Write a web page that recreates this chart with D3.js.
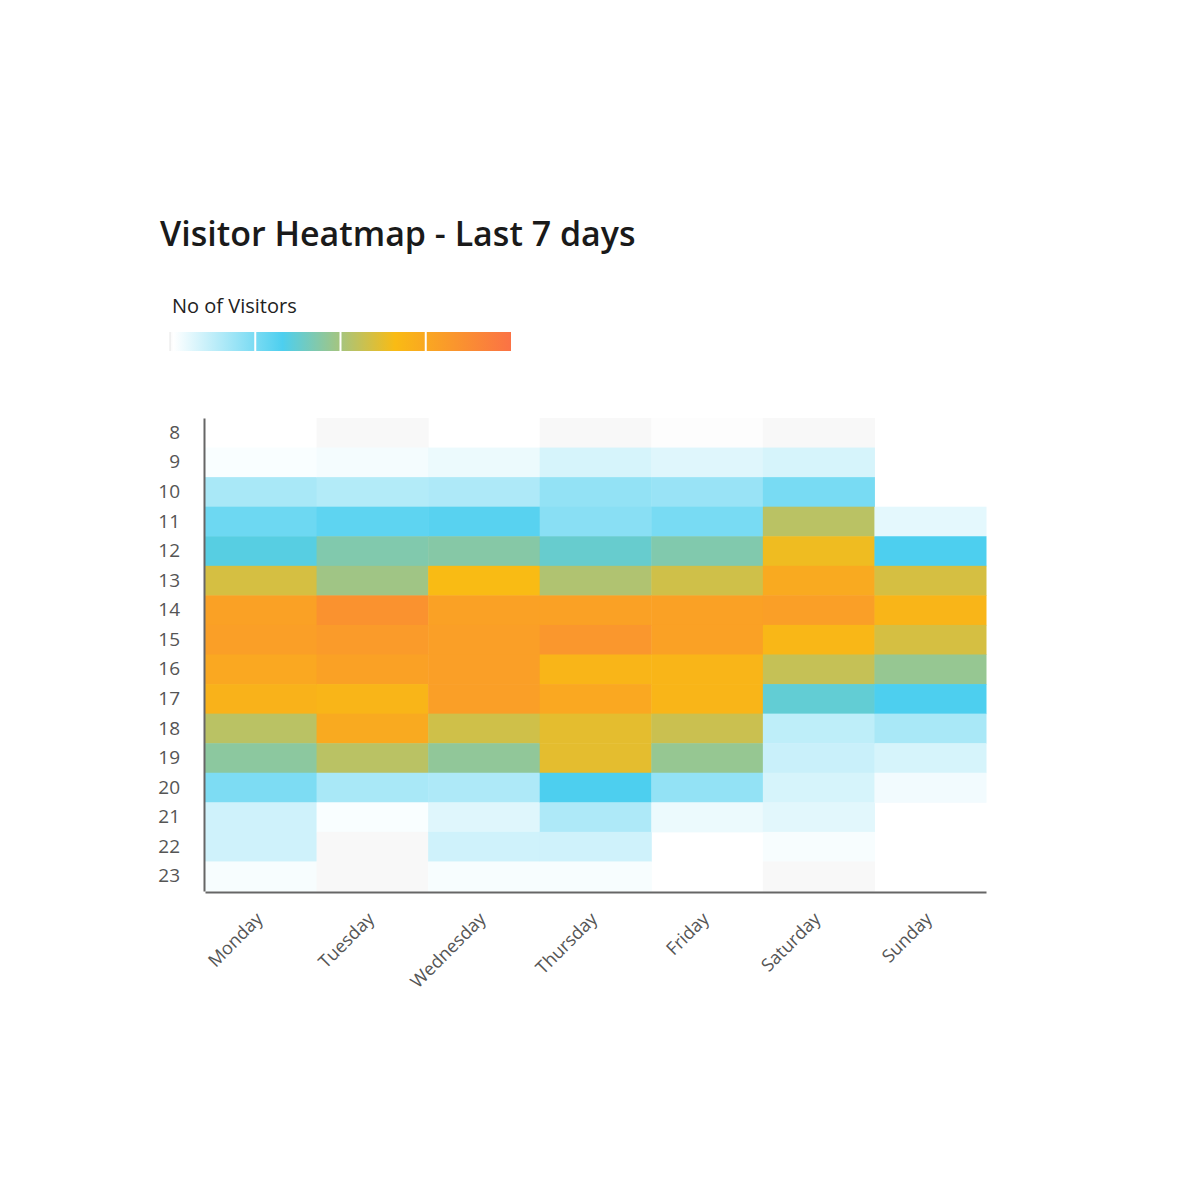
<!DOCTYPE html>
<html>
<head>
<meta charset="utf-8">
<script src="https://cdn.jsdelivr.net/npm/d3@7"></script>
<style>
  html, body { margin: 0; padding: 0; background: #fff; }
  text { font-family: "Open Sans", sans-serif; }
</style>
</head>
<body>
<svg id="chart" width="1200" height="1200"></svg>
<script>
// ---- data ----
const days = ["Monday", "Tuesday", "Wednesday", "Thursday", "Friday", "Saturday", "Sunday"];
const hours = ["8", "9", "10", "11", "12", "13", "14", "15", "16", "17", "18", "19", "20", "21", "22", "23"];
// visitors per hour (rows = hours 8..23), null = no data
const monday    = [null, 2, 16.5, 27.2, 35, 59, 78, 79, 75, 70, 54, 45, 24.3, 9.7, 9.7, 2.5];
const tuesday   = [0, 3, 14.6, 30, 43, 49, 85, 81, 78, 69, 74, 54, 16.5, 2, 0, 0];
const wednesday = [null, 4.4, 15.5, 31, 44, 66, 78, 79, 79, 79, 58, 46, 15.5, 6.8, 9.7, 2.5];
const thursday  = [0, 8.3, 20.4, 22.3, 38, 52, 78, 83, 69, 75, 62, 62, 33, 15.5, 9.7, 2.5];
const friday    = [0.7, 6.8, 19.4, 25.3, 43, 58, 78, 78, 69, 69, 57, 47, 20.4, 4.4, null, null];
const saturday  = [0, 8.3, 25.3, 54, 64, 74, 79, 68, 56, 37, 12.6, 10.7, 8.3, 6.3, 2.5, 0];
const sunday    = [null, null, null, 5.9, 33, 59, 69, 59, 47, 33, 16.5, 8.3, 3.4, null, null, null];
const seriesByDay = [monday, tuesday, wednesday, thursday, friday, saturday, sunday];
const colorDomain = [0, 1, 33, 66, 100];
const colorRange = ["#f8f8f8", "#ffffff", "#4dcfef", "#f9bb14", "#fb7245"];
const legendTicks = [25, 50, 75];

// ---- drawing ----
const svg = d3.select("#chart");
const margin = { left: 205, right: 986, top: 418, bottom: 891 };

svg.append("text")
  .attr("x", 160).attr("y", 246)
  .attr("font-size", 34).attr("font-weight", 600).attr("fill", "#1a1a1a")
  .text("Visitor Heatmap - Last 7 days");

svg.append("text")
  .attr("x", 172).attr("y", 313)
  .attr("font-size", 20).attr("fill", "#222")
  .text("No of Visitors");

const color = d3.scaleLinear().domain(colorDomain).range(colorRange).clamp(true);

// legend gradient
const defs = svg.append("defs");
const grad = defs.append("linearGradient").attr("id", "lg").attr("x1", "0%").attr("x2", "100%");
colorDomain.forEach((d, i) => {
  grad.append("stop").attr("offset", d + "%").attr("stop-color", colorRange[i]);
});
const lx = d3.scaleLinear().domain([0, 100]).range([170, 511]);
svg.append("rect")
  .attr("x", lx(0)).attr("y", 332).attr("width", lx(100) - lx(0)).attr("height", 19)
  .attr("fill", "url(#lg)");
svg.append("line").attr("x1", lx(0)).attr("x2", lx(0)).attr("y1", 332).attr("y2", 351)
  .attr("stroke", "#e6e6e6").attr("stroke-width", 1);
svg.selectAll(".lt").data(legendTicks).enter().append("line")
  .attr("x1", d => lx(d)).attr("x2", d => lx(d))
  .attr("y1", 332).attr("y2", 351)
  .attr("stroke", "#ffffff").attr("stroke-width", 2);

const x = d3.scaleBand().domain(days).range([margin.left, margin.right]).padding(0);
const y = d3.scaleBand().domain(hours).range([margin.top, margin.bottom]).padding(0);

const cells = [];
days.forEach((day, di) => {
  hours.forEach((h, hi) => {
    const v = seriesByDay[di][hi];
    if (v !== null) cells.push({ day, h, v });
  });
});

svg.append("g").selectAll("rect").data(cells).enter().append("rect")
  .attr("x", d => x(d.day))
  .attr("y", d => y(d.h))
  .attr("width", x.bandwidth() + 0.5)
  .attr("height", y.bandwidth() + 0.5)
  .attr("fill", d => color(d.v));

// axes
const yAxis = svg.append("g").attr("transform", `translate(${margin.left - 1},0)`)
  .call(d3.axisLeft(y).tickSize(0).tickPadding(24));
yAxis.select(".domain").attr("stroke", "#666").attr("stroke-width", 2);
yAxis.selectAll("text").attr("font-size", 19).attr("fill", "#555")
  .attr("font-family", "'Open Sans', sans-serif");

const xAxis = svg.append("g").attr("transform", `translate(0,${margin.bottom + 1})`)
  .call(d3.axisBottom(x).tickSize(0).tickPadding(0));
xAxis.select(".domain").attr("stroke", "#666").attr("stroke-width", 2);
xAxis.selectAll("text")
  .attr("font-size", 18).attr("fill", "#555")
  .attr("font-family", "'Open Sans', sans-serif")
  .attr("text-anchor", "end")
  .attr("dy", 0)
  .attr("transform", "translate(3,28) rotate(-45)");
</script>
</body>
</html>
